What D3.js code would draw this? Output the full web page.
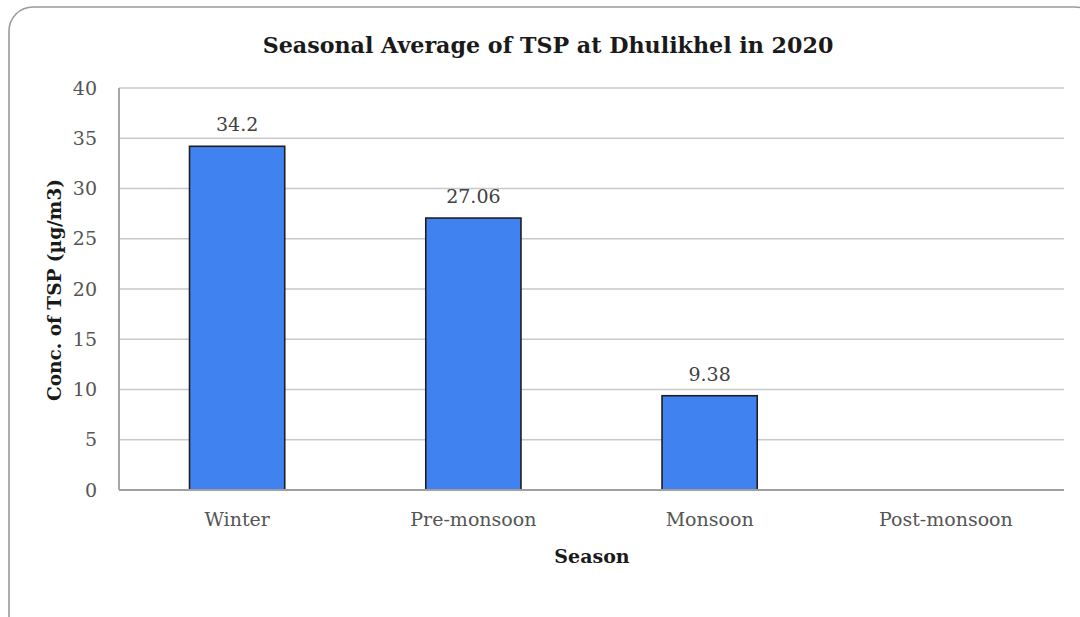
<!DOCTYPE html>
<html><head><meta charset="utf-8">
<script src="https://cdn.jsdelivr.net/npm/d3@7"></script>
<style>body{margin:0;background:#fff}svg{display:block}</style>
</head><body>
<script>
const categories = ["Winter", "Pre-monsoon", "Monsoon", "Post-monsoon"];
const values = [34.2, 27.06, 9.38, null];
const valueLabels = ["34.2", "27.06", "9.38", ""];
const yTicks = [0, 5, 10, 15, 20, 25, 30, 35, 40];
const title = "Seasonal Average of TSP at Dhulikhel in 2020";
const xTitle = "Season";
const yTitle = "Conc. of TSP (µg/m3)";

const W = 1080, H = 617;
const m = {left: 119, right: 1064, top: 88, bottom: 490};
const font = "'DejaVu Serif', serif";

const svg = d3.select("body").append("svg").attr("width", W).attr("height", H);

svg.append("rect").attr("x", 9).attr("y", 7).attr("width", 1090).attr("height", 640)
  .attr("rx", 24).attr("fill", "#fff").attr("stroke", "#9a9a9a").attr("stroke-width", 1.6);

const x = d3.scaleBand().domain(categories).range([m.left, m.right]).padding(0);
const y = d3.scaleLinear().domain([0, 40]).range([m.bottom, m.top]);
const barW = x.bandwidth() * 0.403;

// gridlines
svg.append("g").selectAll("line").data(yTicks.filter(d => d > 0)).join("line")
  .attr("x1", m.left).attr("x2", m.right)
  .attr("y1", d => y(d)).attr("y2", d => y(d))
  .attr("stroke", "#c9c9c9").attr("stroke-width", 1.6);

// bars
svg.append("g").selectAll("rect").data(categories.map((c, i) => ({c, v: values[i]})).filter(d => d.v != null)).join("rect")
  .attr("x", d => x(d.c) + x.bandwidth() / 2 - barW / 2)
  .attr("width", barW)
  .attr("y", d => y(d.v))
  .attr("height", d => y(0) - y(d.v))
  .attr("fill", "#4083f0").attr("stroke", "#1f1f1f").attr("stroke-width", 1.6);

// baseline and y axis line
svg.append("line").attr("x1", m.left).attr("x2", m.right).attr("y1", y(0)).attr("y2", y(0))
  .attr("stroke", "#a0a0a0").attr("stroke-width", 2);
svg.append("line").attr("x1", m.left).attr("x2", m.left).attr("y1", y(40)).attr("y2", y(0))
  .attr("stroke", "#a6a6a6").attr("stroke-width", 2);

// y axis tick labels
const yAxis = d3.axisLeft(y).tickValues(yTicks).tickSize(0).tickPadding(22);
const gy = svg.append("g").attr("transform", `translate(${m.left},0)`).call(yAxis);
gy.select(".domain").remove();
gy.selectAll("text").attr("font-family", font).attr("font-size", 19).attr("fill", "#555");

// x axis tick labels
const xAxis = d3.axisBottom(x).tickSize(0).tickPadding(23);
const gx = svg.append("g").attr("transform", `translate(0,${m.bottom})`).call(xAxis);
gx.select(".domain").remove();
gx.selectAll("text").attr("font-family", font).attr("font-size", 19).attr("fill", "#555");

// value labels
svg.append("g").selectAll("text").data(categories.map((c, i) => ({c, v: values[i], t: valueLabels[i]})).filter(d => d.v != null)).join("text")
  .attr("x", d => x(d.c) + x.bandwidth() / 2)
  .attr("y", d => y(d.v) - 15)
  .attr("text-anchor", "middle").attr("font-family", font).attr("font-size", 19).attr("fill", "#404040")
  .text(d => d.t);

// title
svg.append("text").attr("x", 548).attr("y", 53).attr("text-anchor", "middle")
  .attr("font-family", font).attr("font-weight", "bold").attr("font-size", 22.2).attr("fill", "#1a1a1a")
  .text(title);

svg.append("text").attr("x", 592).attr("y", 563).attr("text-anchor", "middle")
  .attr("font-family", font).attr("font-weight", "bold").attr("font-size", 19).attr("fill", "#1a1a1a")
  .text(xTitle);

svg.append("text").attr("transform", "translate(61,290) rotate(-90)").attr("text-anchor", "middle")
  .attr("font-family", font).attr("font-weight", "bold").attr("font-size", 18.5).attr("fill", "#1a1a1a")
  .text(yTitle);
</script>
</body></html>
